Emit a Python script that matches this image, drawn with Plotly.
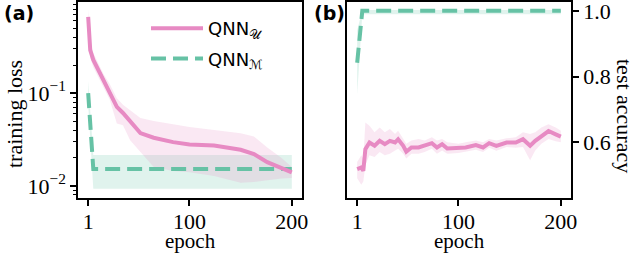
import plotly.graph_objects as go

# ---------------- data ----------------
# (a) training loss, QNN_U
epochs_a_u = [1, 3, 6, 10, 16, 22, 29, 35, 42, 52, 65, 84, 100, 124, 150, 163, 176, 190, 200]
loss_u = [0.66, 0.29, 0.227, 0.186, 0.138, 0.103, 0.071, 0.061, 0.049, 0.037, 0.033, 0.0296,
          0.028, 0.0272, 0.0245, 0.022, 0.018, 0.0155, 0.014]
loss_u_hi = [0.80, 0.36, 0.27, 0.22, 0.16, 0.125, 0.088, 0.075, 0.065, 0.054, 0.050, 0.046,
             0.043, 0.040, 0.037, 0.034, 0.026, 0.020, 0.016]
loss_u_lo = [0.55, 0.24, 0.19, 0.155, 0.115, 0.085, 0.047, 0.045, 0.031, 0.023, 0.016, 0.0145,
             0.014, 0.0128, 0.0108, 0.011, 0.0115, 0.012, 0.0122]
# (a) training loss, QNN_M
epochs_a_m = [1, 6, 200]
loss_m = [0.10, 0.0152, 0.0152]
loss_m_hi = [0.135, 0.0215, 0.0215]
loss_m_lo = [0.075, 0.0093, 0.0093]

# (b) test accuracy, QNN_U
epochs_b_u = [1, 5, 7, 9, 13, 18, 23, 28, 33, 38, 41, 46, 49, 54, 61, 67, 74, 79, 84, 89, 100,
              107, 117, 124, 130, 137, 147, 156, 163, 170, 175, 181, 188, 195, 200]
acc_u = [0.518, 0.523, 0.513, 0.579, 0.599, 0.589, 0.604, 0.594, 0.604, 0.599, 0.609, 0.589,
         0.571, 0.584, 0.584, 0.589, 0.597, 0.584, 0.594, 0.581, 0.581, 0.584, 0.591, 0.584,
         0.597, 0.589, 0.599, 0.599, 0.609, 0.589, 0.604, 0.617, 0.634, 0.624, 0.617]
acc_u_hi = [0.54, 0.56, 0.55, 0.66, 0.65, 0.63, 0.645, 0.63, 0.64, 0.625, 0.635, 0.61, 0.595,
            0.605, 0.61, 0.605, 0.615, 0.605, 0.61, 0.60, 0.595, 0.60, 0.605, 0.60, 0.61, 0.605,
            0.612, 0.615, 0.63, 0.625, 0.63, 0.645, 0.655, 0.645, 0.635]
acc_u_lo = [0.49, 0.47, 0.48, 0.53, 0.56, 0.555, 0.57, 0.56, 0.565, 0.575, 0.58, 0.565, 0.55,
            0.565, 0.565, 0.57, 0.58, 0.565, 0.575, 0.565, 0.567, 0.57, 0.577, 0.57, 0.583,
            0.574, 0.585, 0.583, 0.585, 0.545, 0.575, 0.595, 0.61, 0.603, 0.60]
# (b) test accuracy, QNN_M
epochs_b_m = [1, 6, 200]
acc_m = [0.842, 1.0, 1.0]
acc_m_hi = [0.94, 1.003, 1.003]
acc_m_lo = [0.745, 0.99, 0.99]

# ticks
x_ticks = [1, 100, 200]
loss_ticks = [0.01, 0.1]
loss_tick_text = ["10<sup>−2</sup>", "10<sup>−1</sup>"]
loss_minor = [0.008, 0.009] + [k / 100 for k in range(2, 10)] + [k / 10 for k in range(2, 10)]
acc_ticks = [0.6, 0.8, 1.0]
acc_tick_text = ["0.6", "0.8", "1.0"]

names = ["QNN<sub>𝒰</sub>", "QNN<sub>ℳ</sub>"]

# ---------------- style ----------------
PINK = "#e78ac3"
GREEN = "#66c2a5"
PINK_FILL = "rgba(231,138,195,0.20)"
GREEN_FILL = "rgba(102,194,165,0.20)"
SERIF = "Liberation Serif"

W, H = 636, 254
fig = go.Figure()


def band(x, lo, hi, color, xa, ya):
    fig.add_trace(go.Scatter(x=list(x) + list(x)[::-1], y=list(hi) + list(lo)[::-1],
                             fill="toself", fillcolor=color, line=dict(width=0),
                             mode="lines", hoverinfo="skip", showlegend=False,
                             xaxis=xa, yaxis=ya))


# panel (a)
band(epochs_a_m, loss_m_lo, loss_m_hi, GREEN_FILL, "x", "y")
band(epochs_a_u, loss_u_lo, loss_u_hi, PINK_FILL, "x", "y")
fig.add_trace(go.Scatter(x=epochs_a_m, y=loss_m, mode="lines", name=names[1],
                         legendgroup="m",
                         line=dict(color=GREEN, width=4, dash="15px,7px"),
                         xaxis="x", yaxis="y", legendrank=2))
fig.add_trace(go.Scatter(x=epochs_a_u, y=loss_u, mode="lines", name=names[0],
                         legendgroup="u",
                         line=dict(color=PINK, width=4),
                         xaxis="x", yaxis="y", legendrank=1))
# panel (b)
band(epochs_b_m, acc_m_lo, acc_m_hi, GREEN_FILL, "x2", "y2")
band(epochs_b_u, acc_u_lo, acc_u_hi, PINK_FILL, "x2", "y2")
fig.add_trace(go.Scatter(x=epochs_b_u, y=acc_u, mode="lines", showlegend=False,
                         line=dict(color=PINK, width=4), xaxis="x2", yaxis="y2"))
fig.add_trace(go.Scatter(x=epochs_b_m, y=acc_m, mode="lines", showlegend=False,
                         line=dict(color=GREEN, width=4, dash="15px,7px"),
                         xaxis="x2", yaxis="y2"))

tickfont = dict(family=SERIF, size=22, color="black")
axcommon = dict(showline=True, linecolor="black", linewidth=1.5, mirror=True,
                showgrid=False, zeroline=False, ticks="outside", ticklen=6, tickwidth=1.5,
                tickcolor="black", tickfont=tickfont, automargin=False,
                ticklabeloverflow="allow")

ydom = [1 - 198 / H, 1 - 2 / H]
fig.update_layout(
    template="none",
    width=W, height=H, margin=dict(l=0, r=0, t=0, b=0, pad=0),
    paper_bgcolor="white", plot_bgcolor="white",
    font=dict(family=SERIF, color="black"),
    xaxis=dict(domain=[78 / W, 302 / W], range=[-8.95, 209.95], tickvals=x_ticks,
               anchor="y", ticklabelstandoff=-3, **axcommon),
    yaxis=dict(domain=ydom, type="log", range=[-2.13, -0.02], tickvals=loss_ticks,
               ticktext=loss_tick_text, anchor="x",
               minor=dict(tickmode="array", tickvals=loss_minor, ticks="outside",
                          ticklen=3, tickwidth=1.2, tickcolor="black", showgrid=False),
               **axcommon),
    xaxis2=dict(domain=[347 / W, 571 / W], range=[-8.95, 209.95], tickvals=x_ticks,
                anchor="y2", ticklabelstandoff=-3, **axcommon),
    yaxis2=dict(domain=ydom, range=[0.43, 1.027], tickvals=acc_ticks, ticktext=acc_tick_text,
                side="right", anchor="x2", **axcommon),
    legend=dict(x=146 / W, y=1 - 10 / H, xanchor="left", yanchor="top",
                bgcolor="rgba(0,0,0,0)", font=dict(family="DejaVu Sans", size=18, color="black"),
                tracegroupgap=4, itemwidth=52),
    showlegend=True,
)

ann = [
    dict(text="training loss", x=14 / W, y=1 - 114 / H, textangle=-90,
         font=dict(family=SERIF, size=22)),
    dict(text="epoch", x=190 / W, y=1 - 241 / H, font=dict(family=SERIF, size=21)),
    dict(text="epoch", x=459 / W, y=1 - 241 / H, font=dict(family=SERIF, size=21)),
    dict(text="test accuracy", x=625 / W, y=1 - 116 / H, textangle=90,
         font=dict(family=SERIF, size=22)),
    dict(text="<b>(a)</b>", x=2 / W, y=1 - 13 / H, xanchor="left",
         font=dict(family="DejaVu Sans", size=19)),
    dict(text="<b>(b)</b>", x=312 / W, y=1 - 13 / H, xanchor="left",
         font=dict(family="DejaVu Sans", size=19)),
]
for a in ann:
    a.setdefault("xanchor", "center")
    fig.add_annotation(xref="paper", yref="paper", showarrow=False, yanchor="middle",
                       font_color="black", **{k: v for k, v in a.items()})

fig.write_html("out.html", config={"displayModeBar": False},
               post_script="document.body.style.margin='0';document.body.style.overflow='hidden';")
